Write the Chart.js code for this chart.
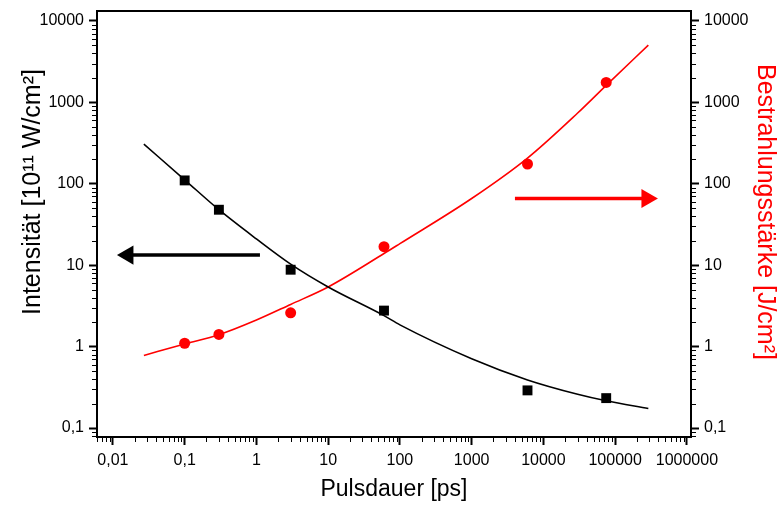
<!DOCTYPE html>
<html>
<head>
<meta charset="utf-8">
<title>Intensität und Bestrahlungsstärke</title>
<style>
  body { margin: 0; background: #fff; }
</style>
</head>
<body>
<canvas id="myChart" width="783" height="507"></canvas>
<script src="https://cdn.jsdelivr.net/npm/chart.js@4/dist/chart.umd.min.js"></script>
<script>
// Messpunkte
var pulsdauer   = [0.1, 0.3, 3, 60, 6000, 75000];
var intensitaet = [110, 48, 8.8, 2.77, 0.29, 0.233];
var bestrahlung = [1.10, 1.41, 2.6, 16.9, 175, 1760];

// Fitkurven
var fitX      = [0.027, 0.1, 0.3, 1, 3, 10, 60, 100, 1000, 6000, 30000, 75000, 290000];
var fitIntens = [307, 112, 48, 21, 10.3, 5.4, 2.4, 1.85, 0.71, 0.39, 0.26, 0.216, 0.174];
var fitBestr  = [0.78, 1.08, 1.40, 2.12, 3.3, 5.4, 13.9, 18.4, 66, 207, 740, 1620, 5050];

// Pfeile (Schaft-Ende, Spitze)
var pfeilLinksX  = [1.12, 0.0162];
var pfeilLinksY  = [13.3, 13.3];
var pfeilRechtsX = [4010, 277000];
var pfeilRechtsY = [66, 66];

// Achsen
var xTicks = [0.01, 0.1, 1, 10, 100, 1000, 10000, 100000, 1000000];
var yTicks = [0.1, 1, 10, 100, 1000, 10000];
var xMin = 0.006, xMax = 1140000;
var yMin = 0.0776, yMax = 13250;

function pts(xs, ys) {
    return xs.map(function(x, i) { return {x: x, y: ys[i]}; });
}
function komma(v) {
    return String(v).replace('.', ',');
}

var schrift = '"Liberation Sans", Arial, sans-serif';
Chart.defaults.font.family = schrift;
Chart.defaults.color = '#000';

// kleine Zwischenstriche, obere Rahmenlinie und y-Achsentitel
var rahmen = {
    id: 'rahmen',
    afterDraw: function(chart) {
        var ctx = chart.ctx, a = chart.chartArea;
        ctx.save();
        ctx.strokeStyle = '#000';
        ctx.lineWidth = 2;
        ctx.beginPath();
        ctx.moveTo(a.left - 1, a.top);
        ctx.lineTo(a.right + 1, a.top);
        ctx.stroke();
        ctx.lineWidth = 1;
        ['x', 'y', 'y1'].forEach(function(id) {
            var s = chart.scales[id];
            var e0 = Math.floor(Math.log10(s.min)), e1 = Math.ceil(Math.log10(s.max));
            for (var e = e0; e <= e1; e++) {
                for (var m = 2; m <= 9; m++) {
                    var v = m * Math.pow(10, e);
                    if (v < s.min || v > s.max) continue;
                    var p = Math.round(s.getPixelForValue(v)) + 0.5;
                    ctx.beginPath();
                    if (id === 'x') { ctx.moveTo(p, a.bottom); ctx.lineTo(p, a.bottom + 5); }
                    else if (id === 'y') { ctx.moveTo(a.left, p); ctx.lineTo(a.left - 5, p); }
                    else { ctx.moveTo(a.right, p); ctx.lineTo(a.right + 5, p); }
                    ctx.stroke();
                }
            }
        });

        ctx.font = '25px ' + schrift;
        ctx.textAlign = 'center';
        ctx.textBaseline = 'middle';
        ctx.fillStyle = '#000';
        ctx.save();
        ctx.translate(33, a.top + 181);
        ctx.rotate(-Math.PI / 2);
        ctx.fillText('Intensität [10¹¹ W/cm²]', 0, 0);
        ctx.restore();
        ctx.fillStyle = '#ff0000';
        ctx.translate(a.right + 74, a.top + 201);
        ctx.rotate(Math.PI / 2);
        ctx.fillText('Bestrahlungsstärke [J/cm²]', 0, 0);
        ctx.restore();
    }
};

function yAxis(pos, width) {
    return {
        type: 'logarithmic',
        position: pos,
        min: yMin, max: yMax,
        afterBuildTicks: function(s) { s.ticks = yTicks.map(function(v) { return {value: v}; }); },
        afterFit: function(s) { s.width = width; s.paddingTop = 0; s.paddingBottom = 0; },
        ticks: { font: {size: 16}, padding: 5, autoSkip: false, callback: function(v) { return komma(v); } },
        grid: { display: true, drawOnChartArea: false, drawTicks: true, tickLength: 8, tickWidth: 2, color: '#000' },
        border: { display: true, width: 2, color: '#000' }
    };
}

var ctx = document.getElementById('myChart').getContext('2d');
var chart = new Chart(ctx, {
    type: 'line',
    data: {
        datasets: [
            { label: 'Fit Intensität', data: pts(fitX, fitIntens), yAxisID: 'y',
              borderColor: '#000', borderWidth: 1.6, pointRadius: 0, cubicInterpolationMode: 'monotone' },
            { label: 'Fit Bestrahlungsstärke', data: pts(fitX, fitBestr), yAxisID: 'y1',
              borderColor: '#ff0000', borderWidth: 1.6, pointRadius: 0, cubicInterpolationMode: 'monotone' },
            { label: 'Intensität', data: pts(pulsdauer, intensitaet), yAxisID: 'y', showLine: false,
              pointStyle: 'rect', pointRadius: 7, backgroundColor: '#000', borderColor: '#000', borderWidth: 0 },
            { label: 'Bestrahlungsstärke', data: pts(pulsdauer, bestrahlung), yAxisID: 'y1', showLine: false,
              pointStyle: 'circle', pointRadius: 5.5, backgroundColor: '#ff0000', borderColor: '#ff0000', borderWidth: 0 },
            { label: 'Pfeil links', data: pts(pfeilLinksX, pfeilLinksY), yAxisID: 'y',
              borderColor: '#000', borderWidth: 3.5, backgroundColor: '#000',
              pointStyle: 'triangle', pointRadius: [0, 11], pointRotation: -90, pointBorderWidth: 0 },
            { label: 'Pfeil rechts', data: pts(pfeilRechtsX, pfeilRechtsY), yAxisID: 'y1',
              borderColor: '#ff0000', borderWidth: 3.5, backgroundColor: '#ff0000',
              pointStyle: 'triangle', pointRadius: [0, 11], pointRotation: 90, pointBorderWidth: 0 }
        ]
    },
    options: {
        responsive: false,
        animation: false,
        layout: { padding: {top: 9, left: 0, right: 0, bottom: 0} },
        plugins: { legend: {display: false}, tooltip: {enabled: false} },
        scales: {
            x: {
                type: 'logarithmic',
                position: 'bottom',
                min: xMin, max: xMax,
                afterBuildTicks: function(s) { s.ticks = xTicks.map(function(v) { return {value: v}; }); },
                afterFit: function(s) { s.height = 70; s.paddingLeft = 0; s.paddingRight = 0; },
                ticks: { font: {size: 16}, padding: 6, autoSkip: false, maxRotation: 0, minRotation: 0,
                         callback: function(v) { return komma(v); } },
                grid: { display: true, drawOnChartArea: false, drawTicks: true, tickLength: 8, tickWidth: 2, color: '#000' },
                border: { display: true, width: 2, color: '#000' },
                title: { display: true, text: 'Pulsdauer [ps]', font: {size: 23}, padding: {top: 0, bottom: 4} }
            },
            y: yAxis('left', 97),
            y1: yAxis('right', 92)
        }
    },
    plugins: [rahmen]
});
</script>
</body>
</html>
